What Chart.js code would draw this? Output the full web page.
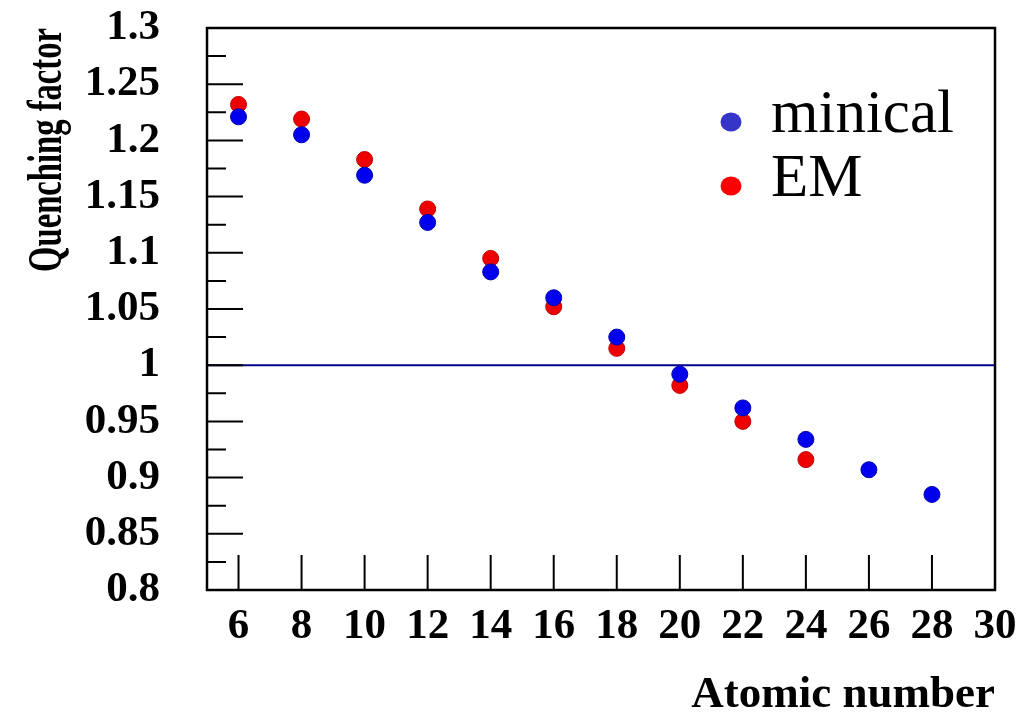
<!DOCTYPE html>
<html>
<head>
<meta charset="utf-8">
<script src="https://cdn.jsdelivr.net/npm/chart.js@4.4.1/dist/chart.umd.min.js"></script>
<style>
  html, body { margin:0; padding:0; background:#fff; }
</style>
</head>
<body>
<canvas id="c" width="1023" height="714"></canvas>
<script>
// ---------- Data ----------
const atomicMinical = [6, 8, 10, 12, 14, 16, 18, 20, 22, 24, 26, 28];
const qfMinical     = [1.221, 1.205, 1.169, 1.127, 1.083, 1.060, 1.025, 0.992, 0.962, 0.934, 0.907, 0.885];
const atomicEM      = [6, 8, 10, 12, 14, 16, 18, 20, 22, 24];
const qfEM          = [1.232, 1.219, 1.183, 1.139, 1.095, 1.052, 1.015, 0.982, 0.950, 0.916];
const refX = [5, 30];
const refY = [1, 1];

const xTicks = [6, 8, 10, 12, 14, 16, 18, 20, 22, 24, 26, 28, 30];
const yTicks = [0.8, 0.85, 0.9, 0.95, 1, 1.05, 1.1, 1.15, 1.2, 1.25, 1.3];
const yTickLabels = ['0.8', '0.85', '0.9', '0.95', '1', '1.05', '1.1', '1.15', '1.2', '1.25', '1.3'];
const seriesNames = ['minical', 'EM'];
const xTitle = 'Atomic number';
const yTitle = 'Quenching factor';

// ---------- Styles ----------
const SERIF = "'Liberation Serif', 'Times New Roman', serif";
const cBlue = '#0000ee', cRed = '#ee0000';
const legendBlue = '#3535c8', legendRed = '#ff0000';

const toPts = (xs, ys) => xs.map((x, i) => ({ x, y: ys[i] }));

// inner ticks, frame, titles, legend (ROOT look)
const rootLook = {
  id: 'rootLook',
  afterDraw(chart){
    const { ctx, chartArea: a } = chart;
    const xs = chart.scales.x, ys = chart.scales.y;
    ctx.save();
    ctx.strokeStyle = '#000';
    ctx.lineWidth = 2;
    ctx.beginPath();
    // y ticks: major + one minor between
    yTicks.forEach((v, i) => {
      const py = ys.getPixelForValue(v);
      ctx.moveTo(a.left, py); ctx.lineTo(a.left + 36, py);
      if (i < yTicks.length - 1) {
        const pm = ys.getPixelForValue((v + yTicks[i + 1]) / 2);
        ctx.moveTo(a.left, pm); ctx.lineTo(a.left + 19, pm);
      }
    });
    xTicks.forEach(v => {
      const px = xs.getPixelForValue(v);
      ctx.moveTo(px, a.bottom); ctx.lineTo(px, a.bottom - 35);
    });
    ctx.stroke();
    ctx.lineWidth = 2.5;
    ctx.strokeRect(a.left, a.top, a.right - a.left, a.bottom - a.top);

    // axis titles
    ctx.fillStyle = '#000';
    ctx.font = 'bold 45px ' + SERIF;
    ctx.textAlign = 'right';
    ctx.textBaseline = 'alphabetic';
    ctx.fillText(xTitle, a.right, 707);

    ctx.save();
    ctx.translate(61, a.top);
    ctx.rotate(-Math.PI / 2);
    ctx.scale(0.68, 1);
    ctx.font = 'bold 48px ' + SERIF;
    ctx.textAlign = 'right';
    ctx.fillText(yTitle, 0, 0);
    ctx.restore();

    // legend
    const cols = [legendBlue, legendRed];
    ctx.font = '61px ' + SERIF;
    ctx.textAlign = 'left';
    seriesNames.forEach((name, i) => {
      const base = a.top + 104 + i * 64;
      ctx.fillStyle = cols[i];
      ctx.beginPath();
      ctx.ellipse(a.left + 524, base - 10, 10.5, 9.5, 0, 0, Math.PI * 2);
      ctx.fill();
      ctx.fillStyle = '#000';
      ctx.fillText(name, a.left + 564, base);
    });
    ctx.restore();
  }
};

new Chart(document.getElementById('c'), {
  type: 'scatter',
  data: {
    datasets: [
      { label: seriesNames[0], data: toPts(atomicMinical, qfMinical),
        backgroundColor: cBlue, borderColor: '#0000b0', borderWidth: 1, pointRadius: 8, order: 1 },
      { label: seriesNames[1], data: toPts(atomicEM, qfEM),
        backgroundColor: cRed, borderColor: '#c00000', borderWidth: 1, pointRadius: 8, order: 2 },
      { type: 'line', label: 'ref', data: toPts(refX, refY),
        borderColor: '#000088', borderWidth: 2, pointRadius: 0, fill: false, order: 3 }
    ]
  },
  options: {
    responsive: false,
    devicePixelRatio: 1,
    animation: false,
    layout: { padding: { top: 28, right: 28, left: 0, bottom: 0 } },
    plugins: { legend: { display: false }, tooltip: { enabled: false } },
    scales: {
      x: {
        type: 'linear', min: 5, max: 30,
        afterBuildTicks(s){ s.ticks = xTicks.map(v => ({ value: v })); },
        afterFit(s){ s.height = 124; s.paddingLeft = 0; s.paddingRight = 0; },
        grid: { display: false, drawTicks: false },
        border: { display: false },
        ticks: { color: '#000', padding: 11, maxRotation: 0, autoSkip: false,
                 font: { family: SERIF, size: 43, weight: 'bold' } }
      },
      y: {
        type: 'linear', min: 0.8, max: 1.3,
        afterBuildTicks(s){ s.ticks = yTicks.map(v => ({ value: v })); },
        afterFit(s){ s.width = 207; s.paddingTop = 0; s.paddingBottom = 0; },
        grid: { display: false, drawTicks: false },
        border: { display: false },
        ticks: { color: '#000', padding: 47, autoSkip: false,
                 callback: (v, i) => yTickLabels[i],
                 font: { family: SERIF, size: 43, weight: 'bold' } }
      }
    }
  },
  plugins: [rootLook]
});
</script>
</body>
</html>
